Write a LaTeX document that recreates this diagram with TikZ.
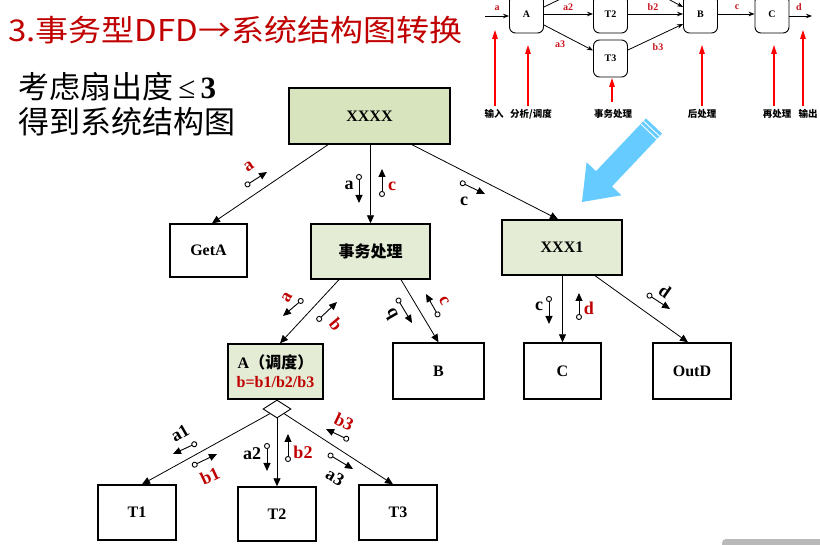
\documentclass[tikz,border=0pt]{standalone}
\usepackage{fontspec}
\setmainfont{Liberation Serif}
\newfontfamily\cjk{Noto Sans CJK SC}
\usetikzlibrary{arrows.meta,shapes.geometric}
\definecolor{hdred}{RGB}{192,0,0}
\definecolor{flowred}{RGB}{200,20,30}
\definecolor{gA}{RGB}{215,228,189}
\definecolor{gB}{RGB}{228,236,214}
\definecolor{skyarrow}{RGB}{102,204,255}
\tikzset{
  box/.style={draw, line width=1.4pt, inner sep=0pt,
    font=\fontsize{16}{18}\selectfont\bfseries},
  gboxA/.style={box, fill=gA},
  gboxB/.style={box, fill=gB},
  link/.style={line width=0.8pt, -{Triangle[length=8pt,width=7pt]}},
  couple/.style={line width=0.9pt,
    {Circle[open,length=6pt,width=6pt,line width=0.9pt]}-{Triangle[length=8pt,width=7pt]}},
  lab/.style={inner sep=0pt, font=\fontsize{18}{20}\selectfont\bfseries},
  dnode/.style={draw, rounded corners=6pt, line width=0.9pt, inner sep=0pt,
    minimum width=34pt, minimum height=38pt, font=\fontsize{10}{12}\selectfont\bfseries},
  dflow/.style={line width=0.8pt, -{Stealth[length=6pt,width=4.5pt]}},
  dlab/.style={inner sep=0pt, text=flowred, font=\fontsize{10}{12}\selectfont\bfseries},
  pointer/.style={draw=red, line width=1.3pt, -{Triangle[length=9pt,width=5.5pt]}},
  stage/.style={inner sep=0pt, font=\cjk\fontsize{9.5}{11}\selectfont\bfseries}
}
\begin{document}
\begin{tikzpicture}[x=1pt,y=-1pt]
\useasboundingbox (0,0) rectangle (820,545);
\clip (0,0) rectangle (820,545);

% heading and side note
\node[anchor=west, inner sep=0pt, text=hdred] (title) at (8,30)
  {\scalebox{1.1}[1]{\cjk\fontsize{30}{34}\selectfont 3.事务型DFD→系统结构图转换}};
\node[anchor=west, inner sep=0pt] (note1) at (18,87)
  {\cjk\fontsize{31}{34}\selectfont 考虑扇出度{\fontspec{Liberation Serif}\,≤\,\textbf{3}}};
\node[anchor=west, inner sep=0pt] (note2) at (18,122)
  {\cjk\fontsize{31}{34}\selectfont 得到系统结构图};

% transaction-type DFD
\node[dnode] (dA) at (526.5,14) {A};
\node[dnode] (dT2) at (610.5,14) {T2};
\node[dnode, minimum height=37pt] (dT3) at (610.5,58.5) {T3};
\node[dnode] (dB) at (700.5,14) {B};
\node[dnode] (dC) at (772,14) {C};
\coordinate (din) at (485,16);
\coordinate (dout) at (812,16);
\coordinate (dT1a) at (600,-20);
\coordinate (dT1b) at (640,-16);
\draw[dflow] (din) -- (din -| dA.west);
\draw[dflow] (dA) -- (dT2);
\draw[dflow] ([yshift=-11pt]dA.east) -- ([yshift=8pt]dT3.west);
\draw[line width=0.8pt] ([yshift=7pt]dA.east) -- (dT1a);
\draw[dflow] (dT1b) -- ([yshift=7pt]dB.west);
\draw[dflow] (dT2) -- (dB);
\draw[dflow] ([yshift=8.5pt]dT3.east) -- ([yshift=-10pt]dB.west);
\draw[dflow] (dB) -- (dC);
\draw[dflow] (dC.east |- dout) -- (dout);
\node[dlab] (la) at (497,8) {a};
\node[dlab] (la2) at (568,7) {a2};
\node[dlab] (la3) at (560,44) {a3};
\node[dlab] (lb2) at (653,7) {b2};
\node[dlab] (lb3) at (658,47) {b3};
\node[dlab] (lc) at (737,7) {c};
\node[dlab] (ld) at (799,7) {d};

\node[stage] (s1) at (494,114) {输入};
\node[stage] (s2) at (531,114) {分析/调度};
\node[stage] (s3) at (613,114) {事务处理};
\node[stage] (s4) at (702,114) {后处理};
\node[stage] (s5) at (777,114) {再处理};
\node[stage] (s6) at (808,114) {输出};
\coordinate (p1) at (495,30);
\coordinate (p2) at (528,45);
\coordinate (p3) at (612,78);
\coordinate (p4) at (702,45);
\coordinate (p5) at (774,45);
\coordinate (p6) at (803,30);
\draw[pointer] (495,106) -- (p1);
\draw[pointer] (528,106) -- (p2);
\draw[pointer] (612,102) -- (p3);
\draw[pointer] (702,106) -- (p4);
\draw[pointer] (774,106) -- (p5);
\draw[pointer] (803,106) -- (p6);

% big hint arrow
\fill[skyarrow] (582,202) -- (621.4,195.3) -- (612.0,186.4) -- (662.0,133.6)
  -- (646.0,118.4) -- (596.0,171.2) -- (586.6,162.3) -- cycle;
\draw[white, line width=0.9pt] (659.6,136.3) -- (643.6,121.1);
\draw[white, line width=0.9pt] (656.9,139.2) -- (640.9,124.0);

% structure chart
\node[gboxA, minimum width=161pt, minimum height=56pt] (xxxx) at (369.5,116) {XXXX};
\node[box, minimum width=77pt, minimum height=53pt] (getA) at (208.5,250.5) {GetA};
\node[gboxB, minimum width=119pt, minimum height=55pt] (sw) at (370.5,251.5)
  {\cjk\fontsize{16}{18}\selectfont\bfseries 事务处理};
\node[gboxB, minimum width=120pt, minimum height=55pt] (xxx1) at (562,247.5) {XXX1};
\node[gboxB, minimum width=95pt, minimum height=55pt, align=center] (nA) at (275.5,371.5)
  {A{\cjk\fontsize{16}{18}\selectfont\bfseries （调度）}\\[1pt]\textcolor{hdred}{b=b1/b2/b3}};
\node[box, minimum width=91pt, minimum height=56pt] (nB) at (438.5,371) {B};
\node[box, minimum width=77pt, minimum height=56pt] (nC) at (562.5,371) {C};
\node[box, minimum width=78pt, minimum height=56pt] (outD) at (692,371) {OutD};
\node[box, minimum width=78pt, minimum height=55pt] (t1) at (137,512.5) {T1};
\node[box, minimum width=78pt, minimum height=54pt] (t2) at (277,514) {T2};
\node[box, minimum width=78pt, minimum height=55pt] (t3) at (398,512.5) {T3};
\node[draw, diamond, line width=0.9pt, fill=white, inner sep=0pt,
  minimum width=28pt, minimum height=18pt] (dia) at (277,409) {};

\draw[link] ([xshift=-41.5pt]xxxx.south) -- ([xshift=3.5pt]getA.north);
\draw[link] (xxxx.south -| sw.north) -- (sw.north);
\draw[link] ([xshift=42.5pt]xxxx.south) -- ([xshift=-4pt]xxx1.north);
\draw[link] ([xshift=-31.5pt]sw.south) -- ([xshift=4.5pt]nA.north);
\draw[link] ([xshift=30.5pt]sw.south) -- (nB.north);
\draw[link] (xxx1.south -| nC.north) -- (nC.north);
\draw[link] ([xshift=33pt]xxx1.south) -- ([xshift=-4pt]outD.north);
\draw[link] (dia.south west) -- ([xshift=5pt]t1.north);
\draw[link] (dia.south) -- (t2.north);
\draw[link] (dia.south east) -- ([xshift=-5pt]t3.north);

% data couples
\draw[couple] (245,186) -- (267,172);
\node[lab, text=hdred, rotate=35] (ca1) at (249,167) {a};
\draw[couple] (359,174) -- (359,203);
\node[lab] (ca2) at (349,185) {a};
\draw[couple] (382,197) -- (382,169);
\node[lab, text=hdred] (cc1) at (392,186) {c};
\draw[couple] (460,182) -- (485,194);
\node[lab] (cc2) at (464,201) {c};

\draw[couple] (303,299) -- (283,316);
\node[lab, text=hdred, rotate=60] (ca3) at (287,298) {a};
\draw[couple] (317,321) -- (337,302);
\node[lab, text=hdred, rotate=-50] (cb1) at (336,324) {b};
\draw[couple] (397,298) -- (412,323);
\node[lab, rotate=120] (cb2) at (391,314) {b};
\draw[couple] (439,317) -- (426,294);
\node[lab, text=hdred, rotate=-60] (cc3) at (444,301) {c};

\draw[couple] (549,296) -- (549,324);
\node[lab] (cc4) at (539,306) {c};
\draw[couple] (579,320) -- (579,293);
\node[lab, text=hdred] (cd1) at (589,308) {d};
\draw[couple] (647,294) -- (670,309);
\node[lab, rotate=-35] (cd2) at (665,291) {d};

\draw[couple] (197,443) -- (173,454);
\node[lab, rotate=30] (ca4) at (180,433) {a1};
\draw[couple] (192,466) -- (217,454);
\node[lab, text=hdred, rotate=25] (cb3) at (210,476) {b1};
\draw[couple] (267,443) -- (267,471);
\node[lab] (ca5) at (252,454) {a2};
\draw[couple] (288,462) -- (288,434);
\node[lab, text=hdred] (cb4) at (303,452) {b2};
\draw[couple] (349,440) -- (326,429);
\node[lab, text=hdred, rotate=-25] (cb5) at (344,422) {b3};
\draw[couple] (328,454) -- (353,469);
\node[lab, rotate=-30] (ca6) at (335,477) {a3};

% edge of a neighbouring panel
\fill[gray!55, rounded corners=4pt] (722,539) rectangle (840,570);
\end{tikzpicture}
\end{document}
